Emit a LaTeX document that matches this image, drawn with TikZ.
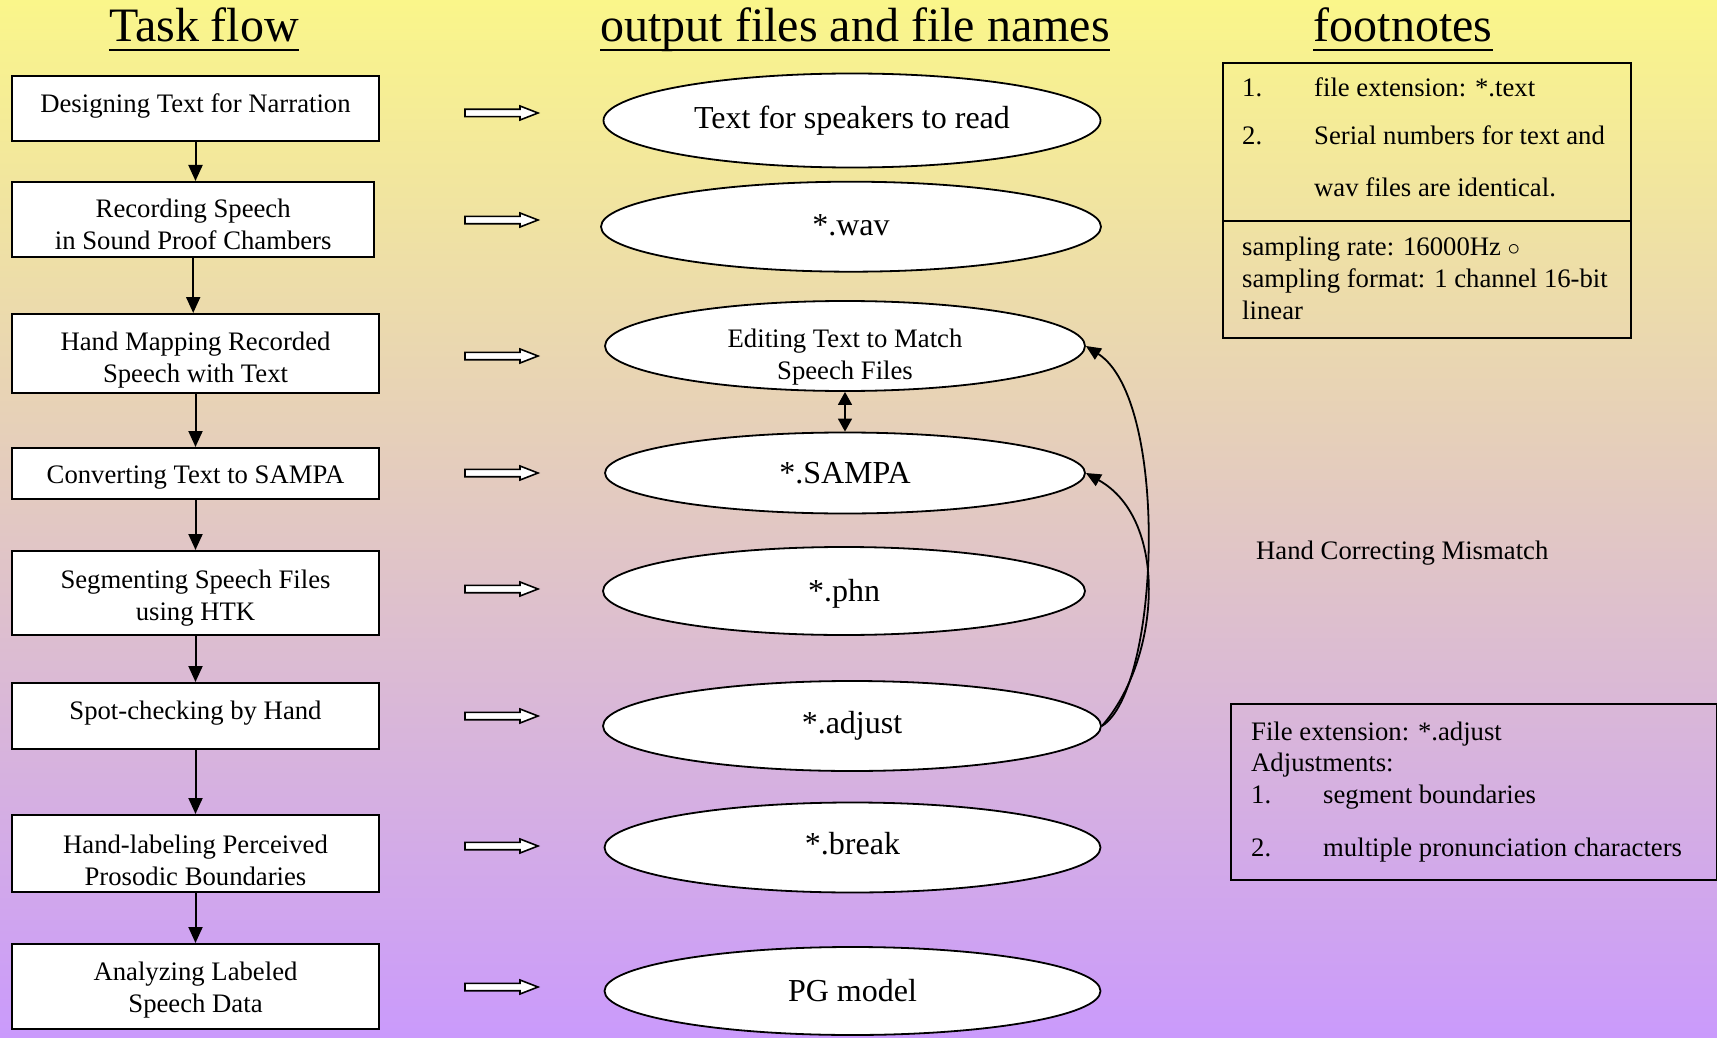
\documentclass[tikz,border=0pt]{standalone}
\usepackage{fontspec}
\setmainfont{Liberation Serif}
\usetikzlibrary{shapes.geometric,arrows.meta}
\definecolor{bgtop}{RGB}{250,246,138}
\definecolor{bgbottom}{RGB}{202,154,252}
% strut that lowers the first line of a centred multi-line label
\newcommand{\firstline}[1]{\rule{0pt}{#1}}
\begin{document}
\begin{tikzpicture}[x=1pt,y=-1pt,
  stepbox/.style={draw,line width=2pt,fill=white,inner sep=0pt,align=center,
    minimum width=367pt,font=\fontsize{26.7}{32}\selectfont},
  fileoval/.style={ellipse,draw,line width=1.8pt,fill=white,inner sep=0pt,align=center,
    font=\fontsize{32}{38}\selectfont},
  ovaltext/.style={inner sep=0pt,align=center,font=\fontsize{26.7}{32}\selectfont},
  heading/.style={inner sep=0pt,anchor=base,font=\fontsize{48}{56}\selectfont},
  note/.style={inner sep=0pt,anchor=base west,font=\fontsize{26.7}{32}\selectfont},
  notebox/.style={draw,line width=2pt,inner sep=0pt,anchor=north west},
  flow/.style={line width=2pt,-{Triangle[length=16pt,width=14pt]}},
  pairflow/.style={line width=1.6pt,{Triangle[length=13pt,width=14pt]}-{Triangle[length=13pt,width=14pt]}},
  backflow/.style={line width=1.8pt,-{Triangle[length=15pt,width=13pt]}},
  pics/blockarrow/.style={code={
    \draw[line width=1.6pt,fill=white,line join=miter]
      (0,-3.7) -- (55,-3.7) -- (55,-7) -- (73,0) -- (55,7) -- (55,3.7) -- (0,3.7) -- cycle;}}
]
% background
\shade[top color=bgtop,bottom color=bgbottom] (0,0) rectangle (1717,1038);
\useasboundingbox (0,0) rectangle (1717,1038);

% column headings
\node[heading] (h1) at (204,42) {Task flow};
\node[heading] (h2) at (855,42) {output files and file names};
\node[heading] (h3) at (1403,42) {footnotes};
\foreach \h in {h1,h2,h3}
  \draw[line width=2.7pt] ([yshift=-8pt]\h.base west) -- ([yshift=-8pt]\h.base east);

% task flow
\node[stepbox,minimum height=65pt,text height=18.4pt,text depth=9.6pt] (b1) at (195.5,108.5) {Designing Text for Narration};
\node[stepbox,minimum width=362.5pt,minimum height=75pt] (b2) at (193.2,219.5) {\firstline{28.8pt}Recording Speech\\in Sound Proof Chambers};
\node[stepbox,minimum height=79pt] (b3) at (195.5,353.5) {\firstline{31.4pt}Hand Mapping Recorded\\Speech with Text};
\node[stepbox,minimum height=51pt,text height=26.6pt,text depth=5.8pt] (b4) at (195.5,473.5) {Converting Text to SAMPA};
\node[stepbox,minimum height=84pt] (b5) at (195.5,593) {\firstline{28pt}Segmenting Speech Files\\using HTK};
\node[stepbox,minimum height=66pt,text height=18.4pt,text depth=11.8pt] (b6) at (195.5,716) {Spot-checking by Hand};
\node[stepbox,minimum height=77pt] (b7) at (195.5,853.5) {\firstline{32.4pt}Hand-labeling Perceived\\Prosodic Boundaries};
\node[stepbox,minimum height=85pt] (b8) at (195.5,986.5) {\firstline{24.8pt}Analyzing Labeled\\Speech Data};

\draw[flow] (b1.south) -- (b1.south |- b2.north);
\draw[flow] (b2.south) -- (b2.south |- b3.north);
\foreach \a/\b in {b3/b4,b4/b5,b5/b6,b6/b7,b7/b8}
  \draw[flow] (\a.south) -- (\b.north);

% output files
\node[fileoval,minimum width=497pt,minimum height=94pt] (e1) at (852,120.5) {Text for speakers to read};
\node[fileoval,minimum width=500pt,minimum height=90pt,text height=21.6pt,text depth=4.4pt] (e2) at (851,226.7) {*.wav};
\node[fileoval,minimum width=480pt,minimum height=90pt] (e3) at (845,346) {};
\node[ovaltext] (e3t) at ([yshift=-10.8pt]e3.center) {Editing Text to Match\\Speech Files};
\node[fileoval,minimum width=480pt,minimum height=81pt] (e4) at (845,473) {*.SAMPA};
\node[fileoval,minimum width=482pt,minimum height=88pt,text height=28.6pt,text depth=7pt] (e5) at (844,591) {*.phn};
\node[fileoval,minimum width=498pt,minimum height=90pt] (e6) at (852,726) {*.adjust};
\node[fileoval,minimum width=496pt,minimum height=90pt,text height=22pt,text depth=8.8pt] (e7) at (852.5,847.5) {*.break};
\node[fileoval,minimum width=496pt,minimum height=88pt] (e8) at (852.5,991) {PG model};

\draw[pairflow] (e3.south) -- (e4.north);
\draw[backflow] (e6.east) .. controls (1160,690) and (1170,400) .. (e3.east);
\draw[backflow] (e6.east) .. controls (1160,660) and (1170,520) .. (e4.east);

% block arrows from each step to its output
\foreach \y in {113,220,356,473,589,716,846,987}
  \pic at (465,\y) {blockarrow};

% footnotes
\node[notebox,minimum width=408.3pt,minimum height=158.3pt] (fa) at (1221.7,61.7) {};
\node[notebox,minimum width=408.3pt,minimum height=116.7pt] (fb) at (1221.7,220) {};
\node[note] (fa1n) at (1242,96.7) {1.};
\node[note] (fa1) at (1314,96.7) {file extension: *.text};
\node[note] (fa2n) at (1242,145) {2.};
\node[note] (fa2) at (1314,145) {Serial numbers for text and};
\node[note] (fa3) at (1314,196.7) {wav files are identical.};
\node[note] (fb1) at (1242,255) {sampling rate: 16000Hz~$\circ$};
\node[note] (fb2) at (1242,287.3) {sampling format: 1 channel 16-bit};
\node[note] (fb3) at (1242,319.3) {linear};

\node[note] (hcm) at (1256,559) {Hand Correcting Mismatch};

\node[notebox,minimum width=485.7pt,minimum height=175.7pt] (fc) at (1230,703.3) {};
\node[note] (fc1) at (1251,740) {File extension: *.adjust};
\node[note] (fc2) at (1251,771.7) {Adjustments:};
\node[note] (fc3n) at (1251,803.3) {1.};
\node[note] (fc3) at (1323,803.3) {segment boundaries};
\node[note] (fc4n) at (1251,856) {2.};
\node[note] (fc4) at (1323,856) {multiple pronunciation characters};
\end{tikzpicture}
\end{document}
